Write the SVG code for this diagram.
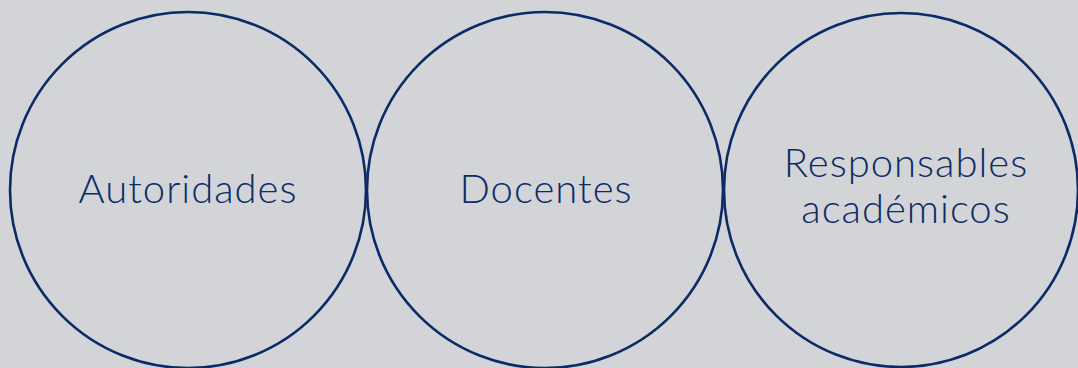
<svg xmlns="http://www.w3.org/2000/svg" width="1078" height="368" viewBox="0 0 1078 368">
<style>
.c{fill:none;stroke:#0b2b66;stroke-width:2.6}
.t{font-family:Lato,"Noto Sans",sans-serif;font-size:40px;font-weight:300;letter-spacing:1px;fill:#0b2b66;text-anchor:middle}
</style>
<rect width="1078" height="368" fill="#d3d4d8"/>
<g id="autoridades"><circle class="c" cx="188" cy="190" r="178"/><text class="t" x="188" y="203">Autoridades</text></g>
<g id="docentes"><circle class="c" cx="545" cy="190" r="178"/><text class="t" x="546" y="203">Docentes</text></g>
<g id="responsables"><circle class="c" cx="901" cy="190" r="177"/><text class="t" x="906" y="177">Responsables</text><text class="t" x="906" y="223">académicos</text></g>
<g id="connectors"/>
</svg>
